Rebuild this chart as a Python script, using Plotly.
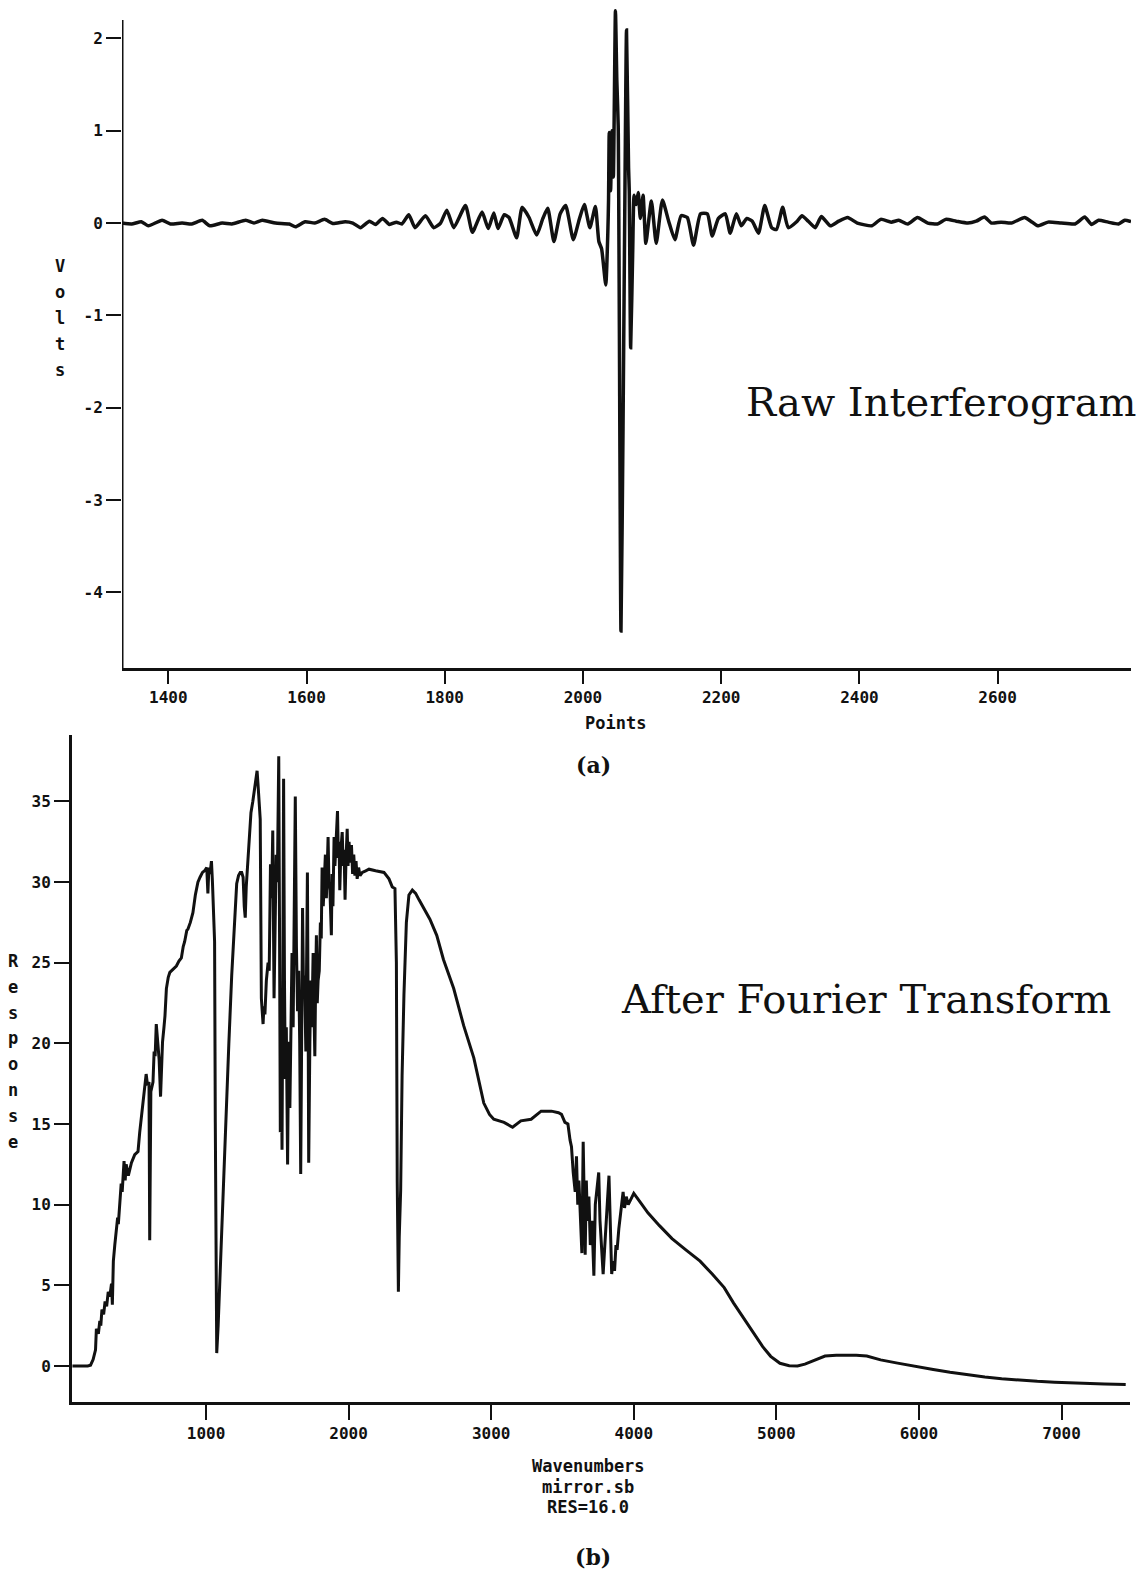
import plotly.graph_objects as go

# ---------------- data: (a) raw interferogram ----------------
ifg_points = [
    1333, 1347, 1361, 1371, 1391, 1403, 1420, 1434, 1449, 1460, 1478, 1492, 1512, 1524, 1536,
    1555, 1575, 1584, 1598, 1612, 1626, 1638, 1656, 1667, 1678, 1691, 1700, 1710, 1720, 1730,
    1738, 1748, 1757, 1772, 1784, 1794, 1803, 1813, 1830, 1840, 1854, 1863, 1871, 1877, 1886,
    1893, 1904, 1912, 1922, 1933, 1942, 1949, 1958, 1967, 1975, 1986, 1995, 2002, 2010, 2018,
    2023, 2027, 2033, 2036, 2037, 2038, 2040, 2042, 2044, 2047, 2049, 2051, 2055, 2058, 2061,
    2063, 2066, 2067, 2069, 2072, 2074, 2077, 2080, 2083, 2087, 2091, 2099, 2106, 2115, 2124,
    2133, 2142, 2151, 2160, 2170, 2180, 2187, 2196, 2206, 2213, 2222, 2229, 2237, 2245, 2254,
    2263, 2273, 2280, 2289, 2297, 2310, 2317, 2326, 2336, 2345, 2358, 2370, 2383, 2397, 2418,
    2431, 2446, 2457, 2470, 2484, 2499, 2513, 2525, 2540, 2557, 2569, 2581, 2591, 2605, 2620,
    2639, 2648, 2658, 2673, 2692, 2712, 2726, 2736, 2746, 2760, 2775, 2784, 2793,
]
ifg_volts = [
    0.0, -0.01, 0.015, -0.03, 0.03, -0.01, 0.0, -0.01, 0.03, -0.03, 0.0, -0.01, 0.03, 0.0, 0.03,
    0.0, -0.01, -0.04, 0.015, 0.0, 0.04, -0.005, 0.015, 0.0, -0.05, 0.02, -0.015, 0.05, -0.015, 0.01,
    -0.01, 0.09, -0.05, 0.08, -0.05, 0.0, 0.14, -0.05, 0.19, -0.10, 0.12, -0.06, 0.11, -0.06, 0.09,
    0.06, -0.16, 0.17, 0.06, -0.13, 0.05, 0.16, -0.20, 0.10, 0.19, -0.18, 0.05, 0.20, -0.05, 0.18,
    -0.20, -0.28, -0.67, -0.10, 0.24, 0.98, 0.35, 1.00, 0.50, 2.30, 1.55, 1.05, -4.42, -2.20, 0.60,
    2.09, 0.60, 0.35, -1.35, -0.30, 0.30, 0.20, 0.33, 0.05, 0.30, -0.22, 0.24, -0.22, 0.25, 0.02,
    -0.18, 0.08, 0.06, -0.24, 0.10, 0.10, -0.14, 0.05, 0.10, -0.11, 0.10, -0.03, 0.05, 0.02, -0.11,
    0.19, -0.05, -0.07, 0.17, -0.05, 0.02, 0.08, 0.02, -0.05, 0.07, -0.03, 0.02, 0.06, 0.00, -0.03,
    0.04, 0.01, 0.03, -0.01, 0.06, 0.00, -0.01, 0.04, 0.02, 0.00, 0.02, 0.065, 0.00, 0.01, 0.00,
    0.06, 0.02, -0.03, 0.01, 0.00, -0.01, 0.065, -0.015, 0.03, 0.01, -0.01, 0.03, 0.015,
]

# ---------------- data: (b) spectrum after Fourier transform ----------------
spec_wavenumbers = [
    63, 120, 170, 190, 208, 225, 231, 245, 255, 262, 270, 282, 292, 303, 314, 325, 337, 343, 350,
    360, 372, 380, 385, 395, 405, 412, 418, 425, 433, 440, 455, 477, 500, 523, 535, 546, 560, 570,
    580, 590, 600, 605, 613, 628, 636, 643, 651, 662, 671, 681, 689, 695, 705, 712, 722, 735, 746,
    770, 792, 810, 827, 840, 850, 865, 874, 890, 908, 925, 943, 958, 975, 990, 1005, 1013, 1020,
    1028, 1038, 1045, 1050, 1056, 1060, 1065, 1075, 1085, 1100, 1120, 1140, 1160, 1180, 1198, 1215,
    1228, 1240, 1250, 1260, 1268, 1275, 1282, 1295, 1305, 1315, 1328, 1342, 1358, 1365, 1372, 1380,
    1388, 1394, 1400, 1406, 1413, 1423, 1435, 1443, 1452, 1460, 1468, 1477, 1483, 1492, 1500, 1510,
    1515, 1521, 1527, 1533, 1539, 1544, 1550, 1556, 1563, 1572, 1577, 1582, 1588, 1595, 1603, 1611,
    1618, 1626, 1634, 1642, 1650, 1657, 1664, 1671, 1677, 1684, 1691, 1700, 1711, 1716, 1720, 1728,
    1735, 1742, 1751, 1757, 1763, 1769, 1774, 1780, 1786, 1794, 1802, 1808, 1814, 1822, 1830, 1837,
    1844, 1850, 1856, 1862, 1869, 1879, 1884, 1890, 1898, 1904, 1913, 1922, 1928, 1933, 1938, 1946,
    1955, 1962, 1968, 1975, 1982, 1990, 1996, 2003, 2011, 2020, 2028, 2036, 2044, 2052, 2060, 2070,
    2080, 2096, 2120, 2143, 2189, 2248, 2283, 2306, 2325, 2335, 2341, 2345, 2349, 2355, 2365, 2375,
    2388, 2405, 2423, 2447, 2470, 2494, 2532, 2570, 2618, 2665, 2737, 2807, 2878, 2918, 2948, 2988,
    3018, 3090, 3150, 3208, 3280, 3350, 3422, 3472, 3493, 3517, 3538, 3553, 3563, 3575, 3589, 3598,
    3607, 3615, 3625, 3636, 3645, 3653, 3659, 3667, 3675, 3685, 3695, 3707, 3720, 3730, 3740, 3754,
    3763, 3775, 3785, 3795, 3807, 3817, 3826, 3835, 3845, 3855, 3865, 3875, 3883, 3895, 3907, 3925,
    3935, 3947, 3961, 4000, 4050, 4099, 4180, 4268, 4365, 4465, 4550, 4634, 4700, 4783, 4850, 4904,
    4960, 5025, 5090, 5148, 5200, 5244, 5300, 5341, 5420, 5486, 5560, 5634, 5731, 5850, 5972, 6100,
    6218, 6340, 6462, 6580, 6704, 6830, 6951, 7070, 7190, 7300, 7450,
]
spec_response = [
    0.0, 0.0, 0.0, 0.05, 0.4, 1.0, 2.3, 2.0, 2.8, 2.5, 3.5, 3.2, 4.0, 3.7, 4.6, 4.3, 5.1, 3.8, 6.5,
    7.5, 8.4, 9.2, 8.8, 10.1, 11.3, 10.8, 11.8, 12.7, 11.5, 12.5, 11.8, 12.6, 13.1, 13.3, 14.5, 15.4, 16.8, 17.3,
    18.1, 17.4, 17.6, 7.8, 17.0, 17.6, 19.5, 19.2, 21.2, 20.0, 19.0, 16.7, 19.5, 20.1, 21.0, 21.7, 23.4, 24.1, 24.4,
    24.6, 24.8, 25.1, 25.3, 26.0, 26.3, 27.0, 27.1, 27.5, 28.1, 29.2, 30.0, 30.3, 30.6, 30.7, 30.9, 29.3, 30.9,
    30.5, 31.3, 30.0, 28.4, 26.7, 26.3, 15.1, 0.8, 2.5, 6.2, 11.0, 15.4, 20.0, 24.2, 27.5, 29.9,
    30.4, 30.6, 30.6, 30.3, 28.5, 27.8, 29.7, 31.5, 33.5, 34.3, 35.0, 36.0, 36.9, 36.0, 34.6, 33.9,
    22.8, 21.5, 21.2, 22.3, 21.8, 23.9, 25.0, 24.5, 31.1, 29.0, 33.2, 22.8, 26.0, 31.7, 30.0, 37.8,
    28.0, 14.5, 20.0, 13.4, 25.0, 36.4, 24.0, 17.8, 21.0, 12.5, 18.0, 20.1, 16.0, 22.5, 25.6, 21.0,
    28.0, 35.3, 26.0, 22.0, 24.5, 20.0, 11.9, 22.0, 28.4, 23.0, 24.2, 19.5, 30.6, 22.0, 12.6, 20.0,
    23.9, 21.0, 25.6, 22.0, 19.2, 24.0, 26.7, 22.5, 23.9, 24.5, 27.5, 26.5, 30.9, 28.5, 30.5, 31.7,
    29.0, 31.5, 32.8, 30.0, 29.5, 26.7, 30.5, 28.5, 32.8, 31.0, 33.0, 34.4, 31.5, 32.5, 29.5, 32.0,
    33.1, 31.0, 32.0, 28.9, 31.5, 33.3, 31.0, 32.5, 31.2, 32.3, 30.5, 31.7, 30.4, 31.3, 30.2, 30.9,
    30.4, 30.6, 30.7, 30.8, 30.7, 30.6, 30.2, 29.7, 29.6, 25.0, 11.4, 8.0, 4.6, 8.0, 10.9, 18.0,
    23.0, 27.5, 29.2, 29.5, 29.3, 28.9, 28.3, 27.7, 26.7, 25.2, 23.4, 21.1, 19.1, 17.6, 16.3, 15.6,
    15.3, 15.1, 14.8, 15.2, 15.3, 15.8, 15.8, 15.7, 15.6, 15.1, 15.0, 14.0, 13.6, 12.0, 10.8, 13.0,
    10.0, 11.5, 9.3, 7.0, 13.9, 10.0, 6.9, 11.5, 9.0, 10.5, 7.5, 9.0, 5.6, 10.0, 11.0, 12.0,
    9.0, 7.0, 5.7, 7.2, 9.5, 10.5, 11.8, 8.0, 5.7, 6.5, 5.9, 7.5, 7.2, 8.5, 9.5, 10.8,
    9.8, 10.5, 10.0, 10.7, 10.1, 9.5, 8.7, 7.9, 7.2, 6.5, 5.7, 4.86, 3.9, 2.8, 1.9, 1.2,
    0.6, 0.17, 0.02, 0.0, 0.12, 0.27, 0.45, 0.62, 0.66, 0.68, 0.66, 0.62, 0.38, 0.18, -0.03, -0.22,
    -0.39, -0.55, -0.68, -0.79, -0.88, -0.95, -1.0, -1.05, -1.09, -1.12, -1.15,
]

# tick labels
ifg_xticks = [1400, 1600, 1800, 2000, 2200, 2400, 2600]
ifg_yticks = [2, 1, 0, -1, -2, -3, -4]
ifg_yticktext = ["2", "1", "0", "-1", "-2", "-3", "-4"]
spec_xticks = [1000, 2000, 3000, 4000, 5000, 6000, 7000]
spec_yticks = [0, 5, 10, 15, 20, 25, 30, 35]

W, H = 1143, 1575
INK = "#111111"
TICKFONT = dict(family="DejaVu Sans Mono", size=16, color=INK, weight="bold")


def fx(px):
    return px / W


def fy(py):
    return 1 - py / H


fig = go.Figure()
fig.add_trace(go.Scatter(x=ifg_points, y=ifg_volts, mode="lines",
                         line=dict(color=INK, width=3.5, shape="spline", smoothing=0.5),
                         xaxis="x", yaxis="y", showlegend=False))
fig.add_trace(go.Scatter(x=spec_wavenumbers, y=spec_response, mode="lines",
                         line=dict(color=INK, width=3),
                         xaxis="x2", yaxis="y2", showlegend=False))

axis_common = dict(showgrid=False, zeroline=False, ticks="outside", tickwidth=2,
                   tickcolor=INK, linecolor=INK, linewidth=3, tickfont=TICKFONT)

fig.update_layout(
    width=W, height=H,
    margin=dict(l=0, r=0, t=0, b=0),
    paper_bgcolor="white", plot_bgcolor="white",
    xaxis=dict(domain=[fx(122), fx(1131)], range=[1333, 2793], anchor="y",
               tickvals=ifg_xticks, ticklen=13, showline=True, **axis_common),
    yaxis=dict(domain=[fy(668), fy(1.5)], range=[-4.82, 2.4], anchor="x",
               tickvals=ifg_yticks, ticktext=ifg_yticktext, ticklen=15,
               showline=False, **axis_common),
    xaxis2=dict(domain=[fx(72), fx(1130)], range=[60, 7480], anchor="y2",
                tickvals=spec_xticks, ticklen=15, showline=True, **axis_common),
    yaxis2=dict(domain=[fy(1401.5), fy(735.3)], range=[-2.2, 39.1], anchor="x2",
                tickvals=spec_yticks, ticklen=15, showline=True, **axis_common),
)

# y axis line of the top panel (stops a little below the top)
fig.add_shape(type="line", xref="x", yref="y", x0=1333, x1=1333, y0=-4.82, y1=2.2,
              line=dict(color=INK, width=3))

label_font = dict(family="DejaVu Sans Mono", size=17, color=INK, weight="bold")
serif_font = dict(family="DejaVu Serif", size=40, color=INK)

annotations = []
for i, ch in enumerate("Volts"):
    annotations.append(dict(text=ch, x=fx(60), y=fy(266 + 26 * i), xref="paper", yref="paper",
                            showarrow=False, font=label_font, xanchor="center", yanchor="middle"))
for i, ch in enumerate("Response"):
    annotations.append(dict(text=ch, x=fx(13), y=fy(961 + 25.8 * i), xref="paper", yref="paper",
                            showarrow=False, font=label_font, xanchor="center", yanchor="middle"))

texts = [
    ("Points", 615, 723, label_font),
    ("(a)", 593, 765, dict(family="DejaVu Serif", size=22, color=INK, weight="bold")),
    ("Wavenumbers", 588, 1466, label_font),
    ("mirror.sb", 588, 1487, label_font),
    ("RES=16.0", 588, 1507, label_font),
    ("(b)", 593, 1557, dict(family="DejaVu Serif", size=22, color=INK, weight="bold")),
    ("Raw Interferogram", 941, 402, serif_font),
    ("After Fourier Transform", 866, 999, serif_font),
]
for t, px, py, f in texts:
    annotations.append(dict(text=t, x=fx(px), y=fy(py), xref="paper", yref="paper",
                            showarrow=False, font=f, xanchor="center", yanchor="middle"))

fig.update_layout(annotations=annotations)
fig.write_html("out.html")
